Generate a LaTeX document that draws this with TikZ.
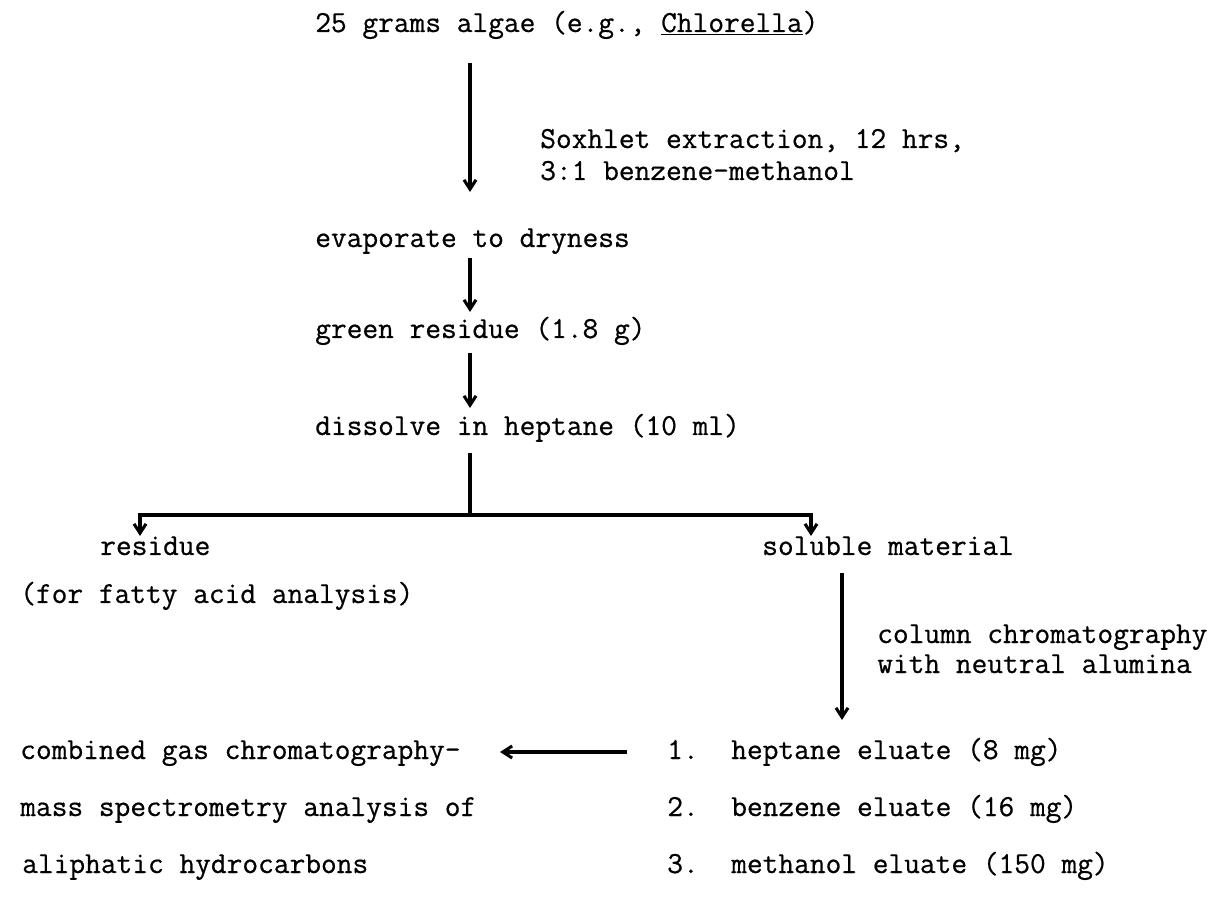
\documentclass[tikz,border=0pt]{standalone}
\usepackage{fontspec}
\newfontfamily\tw{Latin Modern Mono}[FakeBold=0.6]
\usetikzlibrary{arrows.meta}
\begin{document}
\begin{tikzpicture}[x=0.75pt,y=-0.75pt,
  txt/.style={anchor=base west,inner sep=0pt,font=\tw\fontsize{22.9}{26}\selectfont},
  flow/.style={line width=2.3pt,-{Straight Barb[length=7pt,width=9pt,line width=2.3pt]}},
  plain/.style={line width=2.3pt}]
\useasboundingbox (0,0) rectangle (1215,905);
\node[txt] (top) at (315,32) {25 grams algae (e.g., \underline{Chlorella})};
\node[txt] (sox1) at (540,148) {Soxhlet extraction, 12 hrs,};
\node[txt] (sox2) at (540,180) {3:1 benzene-methanol};
\node[txt] (evap) at (315,247) {evaporate to dryness};
\node[txt] (green) at (315,338) {green residue (1.8 g)};
\node[txt] (diss) at (315,435) {dissolve in heptane (10 ml)};
\node[txt] (res) at (100,555) {residue};
\node[txt] (sol) at (762,555) {soluble material};
\node[txt] (fatty) at (20,603) {(for fatty acid analysis)};
\node[txt] (col1) at (877,643) {column chromatography};
\node[txt] (col2) at (877,673) {with neutral alumina};
\node[txt] (gc1) at (20,759) {combined gas chromatography-};
\node[txt] (gc2) at (20,816) {mass spectrometry analysis of};
\node[txt] (gc3) at (22,873) {aliphatic hydrocarbons};
\node[txt] (n1) at (667,759) {1.};
\node[txt] (n2) at (667,816) {2.};
\node[txt] (n3) at (667,873) {3.};
\node[txt] (e1) at (731,759) {heptane eluate (8 mg)};
\node[txt] (e2) at (731,816) {benzene eluate (16 mg)};
\node[txt] (e3) at (731,873) {methanol eluate (150 mg)};
\draw[flow] (470,63) -- (470,192);
\draw[flow] (470,258) -- (470,312);
\draw[flow] (470,353) -- (470,408);
\coordinate (split) at (470,515);
\draw[plain] (470,453) -- (split);
\draw[flow] (split) -| (140,536);
\draw[flow] (split) -| (811,536);
\draw[flow] (842,573) -- (842,720);
\draw[flow] (627,752) -- (500,752);
\end{tikzpicture}
\end{document}
